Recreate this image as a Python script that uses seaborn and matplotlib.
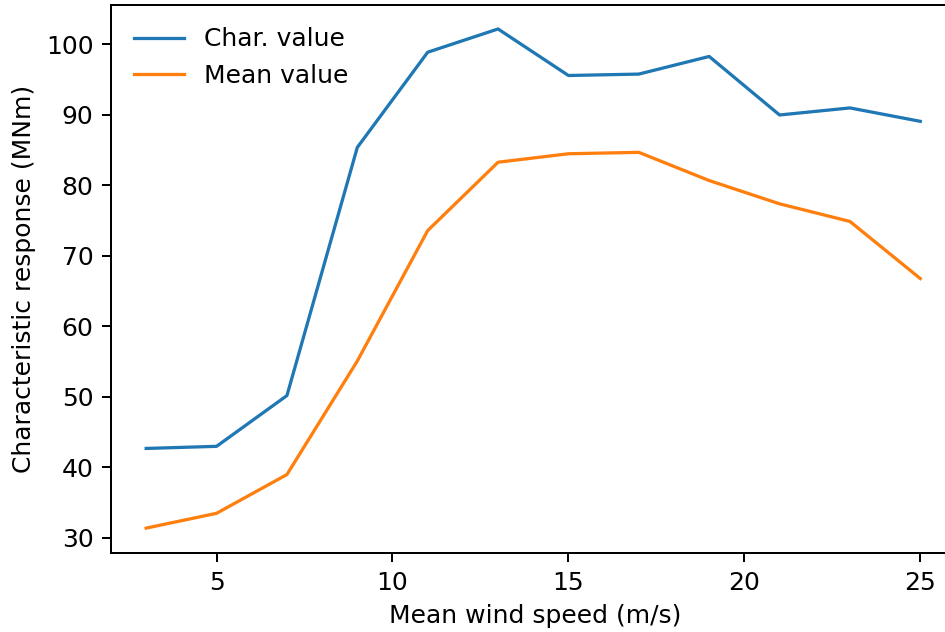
import matplotlib
matplotlib.use("Agg")
import matplotlib.pyplot as plt
import seaborn as sns
import pandas as pd

# wind speed bins (m/s)
wind_speed = [3, 5, 7, 9, 11, 13, 15, 17, 19, 21, 23, 25]
# characteristic response (MNm)
char_value = [42.7, 43.0, 50.2, 85.4, 98.9, 102.2, 95.6, 95.8, 98.3, 90.0, 91.0, 89.1]
mean_value = [31.4, 33.5, 39.0, 55.1, 73.6, 83.3, 84.5, 84.7, 80.7, 77.4, 74.9, 66.8]

df = pd.DataFrame({
    "speed": wind_speed * 2,
    "response": char_value + mean_value,
    "series": ["Char. value"] * len(wind_speed) + ["Mean value"] * len(wind_speed),
})

W, H, DPI = 945, 632, 180
fig = plt.figure(figsize=(W / DPI, H / DPI), dpi=DPI)
ax = fig.add_axes([111 / W, 79 / H, 848 / W, 548 / H])

palette = {"Char. value": "#1f77b4", "Mean value": "#ff7f0e"}
for name in ["Char. value", "Mean value"]:
    sub = df[df["series"] == name]
    sns.lineplot(data=sub, x="speed", y="response", color=palette[name],
                 label=name, ax=ax, linewidth=1.3)

ax.set_xlim(2.0, 26.1)
ax.set_ylim(27.87, 105.6)
ax.set_xticks([5, 10, 15, 20, 25])
ax.spines["right"].set_visible(False)
ax.set_xlabel("Mean wind speed (m/s)")
ax.set_ylabel("Characteristic response (MNm)")
ax.legend(loc="upper left", frameon=False)

fig.savefig("out.png", dpi=DPI)
